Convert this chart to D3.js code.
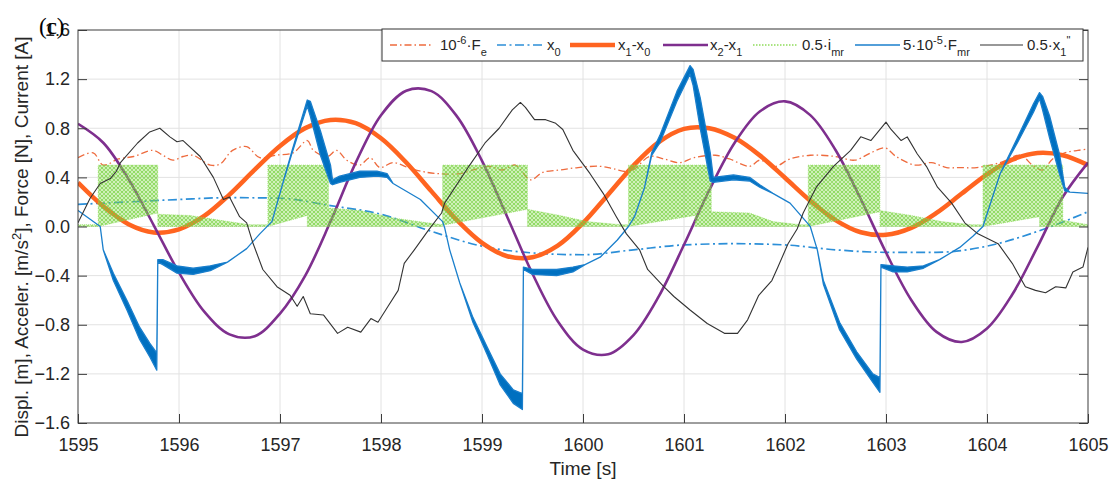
<!DOCTYPE html>
<html><head><meta charset="utf-8">
<script src="https://cdn.jsdelivr.net/npm/d3@7"></script>
<style>
body{margin:0;background:#fff;}
svg{display:block;font-family:"Liberation Sans",Arial,sans-serif;}
</style></head><body>
<svg id="c" width="1113" height="487"></svg>
<script>
// ---------------- DATA ----------------
const xTicks = [1595,1596,1597,1598,1599,1600,1601,1602,1603,1604,1605];
const yTicks = [-1.6,-1.2,-0.8,-0.4,0,0.4,0.8,1.2,1.6];

// smooth series sampled every 0.25 s
const tQuarter = d3.range(0,41).map(i => 1595 + i*0.25);
const x1x0 = [0.357,0.164,0.019,-0.048,-0.023,0.086,0.26,0.463,0.656,0.801,0.868,0.841,0.718,0.521,0.286,0.054,-0.133,-0.242,-0.251,-0.156,0.028,0.261,0.496,0.687,0.795,0.80,0.722,0.579,0.397,0.21,0.052,-0.047,-0.068,-0.011,0.111,0.268,0.425,0.544,0.598,0.58,0.50];
const x2x1 = [0.836,0.682,0.386,0.01,-0.376,-0.693,-0.878,-0.893,-0.709,-0.40,0.04,0.52,0.906,1.106,1.102,0.899,0.535,0.078,-0.385,-0.771,-1.002,-1.04,-0.884,-0.569,-0.149,0.295,0.68,0.937,1.019,0.907,0.623,0.224,-0.212,-0.598,-0.858,-0.94,-0.83,-0.554,-0.166,0.24,0.52];

// x0 sampled every 0.5 s
const tHalf = d3.range(0,21).map(i => 1595 + i*0.5);
const x0 = [0.18,0.20,0.22,0.235,0.23,0.17,0.10,-0.04,-0.16,-0.215,-0.23,-0.19,-0.15,-0.14,-0.15,-0.19,-0.21,-0.21,-0.16,-0.04,0.12];

// 1e-6 * Fe (noisy)
const feTime = [1595.00,1595.15,1595.25,1595.40,1595.55,1595.74,1595.84,1595.94,1596.04,1596.14,1596.31,1596.41,1596.53,1596.67,1596.80,1596.95,1597.13,1597.27,1597.33,1597.47,1597.56,1597.66,1597.79,1597.89,1597.99,1598.12,1598.30,1598.46,1598.58,1598.78,1598.95,1599.08,1599.20,1599.33,1599.48,1599.60,1599.77,1599.95,1600.17,1600.30,1600.47,1600.66,1600.80,1600.96,1601.10,1601.31,1601.45,1601.65,1601.75,1601.90,1602.05,1602.25,1602.50,1602.69,1602.85,1602.99,1603.10,1603.29,1603.45,1603.60,1603.73,1603.90,1604.13,1604.33,1604.45,1604.55,1604.65,1604.77,1604.90,1605.00];
const feVal  = [0.56,0.60,0.50,0.55,0.57,0.62,0.58,0.54,0.57,0.58,0.50,0.51,0.62,0.65,0.56,0.58,0.60,0.70,0.62,0.57,0.62,0.54,0.50,0.56,0.48,0.52,0.47,0.44,0.43,0.43,0.47,0.49,0.46,0.50,0.38,0.44,0.46,0.48,0.49,0.47,0.45,0.57,0.55,0.52,0.56,0.58,0.55,0.49,0.54,0.49,0.55,0.58,0.57,0.54,0.60,0.64,0.57,0.50,0.52,0.48,0.48,0.48,0.52,0.58,0.50,0.46,0.55,0.60,0.62,0.63];

// 0.5 * x1'' (noisy)
const accTime = [1595.00,1595.12,1595.22,1595.32,1595.38,1595.42,1595.59,1595.71,1595.81,1595.91,1595.98,1596.04,1596.21,1596.34,1596.44,1596.50,1596.60,1596.67,1596.73,1596.83,1596.97,1597.10,1597.17,1597.23,1597.30,1597.43,1597.57,1597.67,1597.80,1597.90,1597.97,1598.07,1598.17,1598.23,1598.33,1598.47,1598.60,1598.63,1598.87,1599.03,1599.17,1599.30,1599.38,1599.43,1599.52,1599.63,1599.73,1599.80,1599.90,1600.07,1600.20,1600.33,1600.43,1600.56,1600.64,1600.80,1600.90,1601.06,1601.23,1601.40,1601.53,1601.63,1601.74,1601.87,1601.93,1602.03,1602.12,1602.18,1602.31,1602.48,1602.65,1602.75,1602.85,1603.00,1603.05,1603.15,1603.21,1603.31,1603.40,1603.51,1603.65,1603.78,1603.91,1604.11,1604.25,1604.38,1604.48,1604.58,1604.68,1604.78,1604.85,1604.95,1605.00];
const accVal  = [0.03,0.23,0.35,0.39,0.45,0.52,0.68,0.77,0.80,0.73,0.69,0.70,0.57,0.40,0.22,0.24,0.08,0.03,-0.13,-0.35,-0.49,-0.56,-0.65,-0.57,-0.71,-0.72,-0.87,-0.82,-0.86,-0.75,-0.78,-0.65,-0.52,-0.30,-0.19,-0.03,0.11,0.19,0.49,0.68,0.80,0.95,1.01,0.97,0.87,0.87,0.84,0.79,0.62,0.43,0.27,0.08,-0.06,-0.19,-0.35,-0.49,-0.57,-0.68,-0.79,-0.87,-0.87,-0.76,-0.56,-0.44,-0.33,-0.14,-0.02,0.11,0.32,0.49,0.62,0.73,0.70,0.85,0.79,0.70,0.73,0.59,0.49,0.32,0.19,0.03,-0.06,-0.14,-0.30,-0.49,-0.52,-0.54,-0.49,-0.50,-0.37,-0.33,-0.17];

// 5e-5 * Fmr : lower / upper envelope (fast oscillation appears as a band)
const fmrTime = [1595.00,1595.22,1595.25,1595.35,1595.49,1595.61,1595.71,1595.78,1595.79,1595.84,1595.98,1596.14,1596.31,1596.48,1596.67,1596.80,1596.92,1597.02,1597.12,1597.27,1597.30,1597.40,1597.50,1597.52,1597.59,1597.79,1597.96,1598.06,1598.12,1598.39,1598.61,1598.63,1598.68,1598.78,1598.91,1599.05,1599.18,1599.31,1599.40,1599.41,1599.50,1599.74,1599.90,1600.02,1600.17,1600.34,1600.45,1600.51,1600.61,1600.68,1600.76,1600.93,1601.06,1601.09,1601.16,1601.26,1601.29,1601.49,1601.65,1601.75,1601.88,1602.05,1602.22,1602.25,1602.32,1602.38,1602.54,1602.71,1602.87,1602.94,1602.95,1603.07,1603.21,1603.37,1603.53,1603.73,1603.86,1603.96,1604.13,1604.30,1604.46,1604.52,1604.55,1604.62,1604.72,1604.77,1604.82,1605.00];
const fmrLow  = [0.13,0.0,-0.19,-0.44,-0.69,-0.92,-1.06,-1.17,-0.29,-0.31,-0.38,-0.39,-0.36,-0.29,-0.18,-0.06,0.04,0.33,0.60,0.98,0.90,0.58,0.35,0.34,0.36,0.40,0.41,0.40,0.35,0.22,0.04,-0.01,-0.19,-0.46,-0.78,-1.04,-1.29,-1.44,-1.49,-0.35,-0.39,-0.40,-0.37,-0.31,-0.25,-0.11,0.0,0.08,0.32,0.58,0.68,1.02,1.24,1.15,0.80,0.37,0.36,0.38,0.37,0.32,0.27,0.19,0.03,0.0,-0.19,-0.47,-0.84,-1.08,-1.27,-1.35,-0.33,-0.37,-0.37,-0.34,-0.27,-0.17,-0.08,0.0,0.43,0.68,0.93,1.04,0.95,0.72,0.42,0.29,0.28,0.27];
const fmrHigh = [0.13,0.0,-0.19,-0.38,-0.61,-0.82,-0.95,-1.03,-0.27,-0.27,-0.32,-0.34,-0.32,-0.29,-0.18,-0.06,0.04,0.33,0.62,1.03,1.02,0.78,0.50,0.38,0.41,0.45,0.45,0.43,0.35,0.22,0.04,-0.01,-0.19,-0.46,-0.74,-0.98,-1.20,-1.33,-1.36,-0.33,-0.35,-0.35,-0.33,-0.31,-0.25,-0.11,0.0,0.08,0.32,0.60,0.74,1.10,1.31,1.28,1.05,0.60,0.40,0.42,0.40,0.34,0.27,0.19,0.03,0.0,-0.19,-0.44,-0.78,-1.02,-1.20,-1.23,-0.31,-0.32,-0.33,-0.32,-0.27,-0.17,-0.08,0.0,0.43,0.72,1.00,1.09,1.06,0.90,0.58,0.32,0.28,0.27];

// 0.5 * imr : lower / upper envelope of the switching current
const imrTime = [1595.00,1595.20,1595.20,1595.79,1595.79,1596.11,1596.41,1596.70,1596.88,1596.88,1597.27,1597.27,1597.48,1597.48,1597.79,1598.12,1598.46,1598.61,1598.61,1599.45,1599.45,1599.77,1600.04,1600.37,1600.45,1600.45,1601.11,1601.11,1601.27,1601.27,1601.65,1601.88,1602.15,1602.23,1602.23,1602.94,1602.94,1603.25,1603.55,1603.85,1603.96,1603.96,1604.52,1604.52,1604.75,1604.75,1605.00];
const imrLow  = [0,0,0,0.11,0,0,0,0,0,0,0.09,0,0,0,0,0,0,0,0.01,0.14,0,0,0,0,0,0,0.09,0,0,0,0,0,0,0,0,0.12,0,0,0,0,0,0,0.08,0,0,0,0];
const imrHigh = [0.015,0.015,0.50,0.50,0.10,0.09,0.05,0.015,0.015,0.50,0.50,0.50,0.50,0.15,0.13,0.07,0.03,0.015,0.50,0.50,0.14,0.09,0.04,0.015,0.015,0.50,0.50,0.50,0.50,0.12,0.11,0.04,0.015,0.015,0.50,0.50,0.13,0.09,0.04,0.015,0.015,0.50,0.50,0.50,0.50,0.05,0.015];

// ---------------- CHART ----------------
const W = 1113, H = 487;
const L = 78, R = 1088, T = 30, B = 423;
const svg = d3.select("#c");
const x = d3.scaleLinear().domain([1595,1605]).range([L,R]);
const y = d3.scaleLinear().domain([-1.6,1.6]).range([B,T]);

const defs = svg.append("defs");
defs.append("clipPath").attr("id","clip").append("rect")
  .attr("x",L).attr("y",T).attr("width",R-L).attr("height",B-T);
const pat = defs.append("pattern").attr("id","gpat").attr("width",4).attr("height",4)
  .attr("patternUnits","userSpaceOnUse");
pat.append("rect").attr("width",4).attr("height",4).attr("fill","rgba(150,225,100,0.25)");
pat.append("ellipse").attr("cx",2).attr("cy",2).attr("rx",1.4).attr("ry",1.9)
  .attr("fill","none").attr("stroke","#6fcf35").attr("stroke-width",0.8);

// grid
const grid = svg.append("g");
grid.selectAll("line.gx").data(xTicks.slice(1,-1)).join("line")
  .attr("x1",d=>x(d)).attr("x2",d=>x(d)).attr("y1",T).attr("y2",B)
  .attr("stroke","#e2e2e2").attr("stroke-width",1);
grid.selectAll("line.gy").data(yTicks.slice(1,-1)).join("line")
  .attr("y1",d=>y(d)).attr("y2",d=>y(d)).attr("x1",L).attr("x2",R)
  .attr("stroke","#e2e2e2").attr("stroke-width",1);

const plot = svg.append("g").attr("clip-path","url(#clip)");

function pts(ts, vs){ return ts.map((t,i)=>[t,vs[i]]); }
const lineSmooth = d3.line().x(d=>x(d[0])).y(d=>y(d[1])).curve(d3.curveCatmullRom.alpha(0.5));
const lineLin = d3.line().x(d=>x(d[0])).y(d=>y(d[1]));

// draw order as in legend
plot.append("path").attr("d", lineSmooth(pts(feTime,feVal)))
  .attr("fill","none").attr("stroke","#ee6b3e").attr("stroke-width",1.3)
  .attr("stroke-dasharray","7,3,1.5,3");
plot.append("path").attr("d", d3.line().x(d=>x(d[0])).y(d=>y(d[1])).curve(d3.curveMonotoneX)(pts(tHalf,x0)))
  .attr("fill","none").attr("stroke","#2c8fd8").attr("stroke-width",1.7)
  .attr("stroke-dasharray","9,3.5,2,3.5");
plot.append("path").attr("d", lineSmooth(pts(tQuarter,x1x0)))
  .attr("fill","none").attr("stroke","#ff6420").attr("stroke-width",4.5);
plot.append("path").attr("d", lineSmooth(pts(tQuarter,x2x1)))
  .attr("fill","none").attr("stroke","#7e2f8e").attr("stroke-width",2.6);

const imrData = imrTime.map((t,i)=>({t, lo:imrLow[i], hi:imrHigh[i]}));
plot.append("path").attr("d", d3.area().x(d=>x(d.t)).y0(d=>y(d.lo)).y1(d=>y(d.hi))(imrData))
  .attr("fill","url(#gpat)").attr("stroke","#8fdc5a").attr("stroke-width",0.6).attr("stroke-dasharray","1,1");

const fmrData = fmrTime.map((t,i)=>({t, lo:fmrLow[i], hi:fmrHigh[i]}));
plot.append("path").attr("d", d3.area().x(d=>x(d.t)).y0(d=>y(d.lo)).y1(d=>y(d.hi))(fmrData))
  .attr("fill","#0070c0").attr("stroke","#1a7fcc").attr("stroke-width",1.3).attr("stroke-linejoin","round");

plot.append("path").attr("d", lineLin(pts(accTime,accVal)))
  .attr("fill","none").attr("stroke","#333333").attr("stroke-width",1.1).attr("stroke-linejoin","round");

// axes box + ticks (ticks point inward)
const axCol = "#3c3c3c";
const gx = svg.append("g").attr("transform",`translate(0,${B})`)
  .call(d3.axisBottom(x).tickValues(xTicks).tickFormat(d3.format("d")).tickSizeInner(-9).tickSizeOuter(0).tickPadding(15));
const gy = svg.append("g").attr("transform",`translate(${L},0)`)
  .call(d3.axisLeft(y).tickValues(yTicks).tickFormat(d=>d3.format(".1f")(d)).tickSizeInner(-9).tickSizeOuter(0).tickPadding(8));
const gr = svg.append("g").attr("transform",`translate(${R},0)`)
  .call(d3.axisRight(y).tickValues(yTicks).tickFormat("").tickSizeInner(-9).tickSizeOuter(0));
[gx,gy,gr].forEach(g=>{
  g.selectAll(".domain").remove();
  g.selectAll(".tick line").attr("stroke",axCol);
  g.selectAll(".tick text").attr("fill","#262626").style("font-size","18px")
    .style("font-family","'Liberation Sans',Arial,sans-serif");
});
svg.append("rect").attr("x",L).attr("y",T).attr("width",R-L).attr("height",B-T)
  .attr("fill","none").attr("stroke",axCol).attr("stroke-width",1);

// axis titles
svg.append("text").attr("x",(L+R)/2).attr("y",475).attr("text-anchor","middle")
  .attr("fill","#262626").style("font-size","19px").text("Time [s]");
const yt = svg.append("text").attr("transform","translate(28,237) rotate(-90)")
  .attr("text-anchor","middle").attr("fill","#262626").style("font-size","19px");
yt.append("tspan").text("Displ. [m], Acceler. [m/s");
yt.append("tspan").attr("dy",-7).style("font-size","13px").text("2");
yt.append("tspan").attr("dy",7).text("], Force [N], Current [A]");

// panel label
svg.append("text").attr("x",39).attr("y",34).attr("fill","#000")
  .style("font-family","'Liberation Serif','Times New Roman',serif").style("font-size","23px").text("(c)");

// legend
const lg = svg.append("g");
lg.append("rect").attr("x",382).attr("y",29).attr("width",701).attr("height",32)
  .attr("fill","#fff").attr("stroke","#333").attr("stroke-width",1);
const legendItems = [
  {x1:390,x2:433,tx:440,col:"#ee6b3e",w:1.3,dash:"7,3,1.5,3",parts:[["10"],["-6","sup"],["·F"],["e","sub"]]},
  {x1:497,x2:543,tx:547,col:"#2c8fd8",w:1.7,dash:"9,3.5,2,3.5",parts:[["x"],["0","sub"]]},
  {x1:570,x2:615,tx:618,col:"#ff6420",w:4.5,dash:null,parts:[["x"],["1","sub"],["-x"],["0","sub"]]},
  {x1:663,x2:708,tx:710,col:"#7e2f8e",w:2.6,dash:null,parts:[["x"],["2","sub"],["-x"],["1","sub"]]},
  {x1:753,x2:797,tx:802,col:"#8fdc5a",w:1.3,dash:"1.5,1.5",parts:[["0.5·i"],["mr","sub"]]},
  {x1:855,x2:900,tx:903,col:"#1a7fcc",w:1.3,dash:null,parts:[["5·10"],["-5","sup"],["·F"],["mr","sub"]]},
  {x1:980,x2:1023,tx:1027,col:"#333333",w:1.1,dash:null,parts:[["0.5·x"],["1","sub"],["\"","sup"]]}
];
legendItems.forEach(it=>{
  lg.append("line").attr("x1",it.x1).attr("x2",it.x2).attr("y1",45).attr("y2",45)
    .attr("stroke",it.col).attr("stroke-width",it.w).attr("stroke-dasharray",it.dash);
  const t = lg.append("text").attr("x",it.tx).attr("y",50).attr("fill","#262626").style("font-size","15px");
  let cur = 0;
  it.parts.forEach(p=>{
    const target = p[1]==="sup" ? -6 : p[1]==="sub" ? 6 : 0;
    const ts = t.append("tspan").attr("dy", target-cur).text(p[0]);
    if (p[1]) ts.style("font-size","11px");
    cur = target;
  });
});
</script>
</body></html>
